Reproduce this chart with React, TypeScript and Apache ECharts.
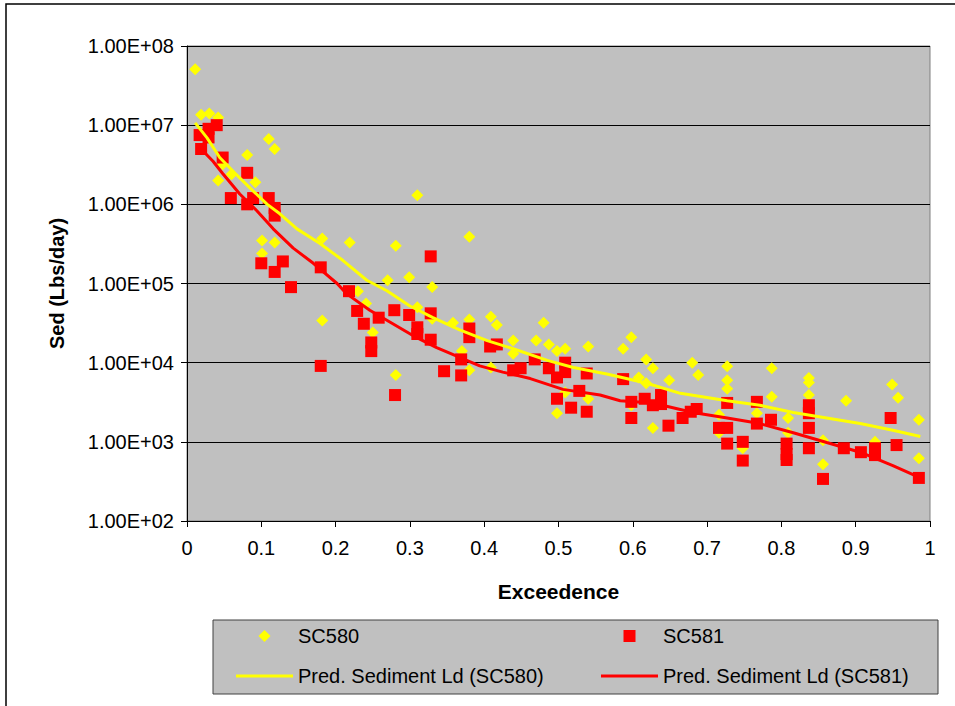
import React, { useEffect, useRef } from "react";
import * as echarts from "echarts";

// SC580 observed (exceedence, sediment lbs/day)
const sc580X = [0.011, 0.019, 0.03, 0.042, 0.042, 0.048, 0.06, 0.081, 0.092, 0.101, 0.101, 0.11, 0.118, 0.118, 0.182, 0.182, 0.219, 0.23, 0.241, 0.25, 0.27, 0.281, 0.281, 0.299, 0.31, 0.31, 0.33, 0.33, 0.358, 0.37, 0.38, 0.38, 0.38, 0.409, 0.417, 0.409, 0.439, 0.439, 0.47, 0.48, 0.487, 0.498, 0.498, 0.509, 0.509, 0.54, 0.54, 0.587, 0.598, 0.598, 0.608, 0.618, 0.618, 0.627, 0.627, 0.649, 0.68, 0.688, 0.716, 0.716, 0.727, 0.727, 0.727, 0.748, 0.767, 0.787, 0.787, 0.809, 0.809, 0.837, 0.837, 0.837, 0.856, 0.856, 0.887, 0.926, 0.949, 0.957, 0.985, 0.985];
const sc580Y = [5.1e7, 1.35e7, 1.4e7, 1.25e7, 2.0e6, 3.2e6, 2.4e6, 4.2e6, 1.9e6, 3.5e5, 2.4e5, 6.7e6, 5.0e6, 3.3e5, 3.7e5, 3.4e4, 3.3e5, 8.0e4, 5.6e4, 2.4e4, 1.1e5, 3.0e5, 7.0e3, 1.2e5, 1.3e6, 5.0e4, 9.0e4, 3.6e4, 3.2e4, 1.4e4, 3.9e5, 3.5e4, 8.0e3, 3.8e4, 3.0e4, 8.7e3, 1.9e4, 1.3e4, 1.9e4, 3.2e4, 1.7e4, 1.4e4, 2.3e3, 1.5e4, 4.2e3, 1.6e4, 3.5e3, 1.5e4, 2.1e4, 2.9e3, 6.5e3, 1.1e4, 5.5e3, 8.5e3, 1.5e3, 6.0e3, 1.0e4, 7.0e3, 2.2e3, 1.3e3, 9.0e3, 6.0e3, 4.7e3, 8.3e2, 2.3e3, 8.5e3, 3.7e3, 2.0e3, 1.3e3, 6.4e3, 5.6e3, 3.9e3, 1.05e3, 5.2e2, 3.3e3, 1.0e3, 5.3e3, 3.6e3, 1.9e3, 6.2e2];

// SC581 observed
const sc581X = [0.017, 0.019, 0.029, 0.029, 0.04, 0.048, 0.059, 0.081, 0.081, 0.089, 0.1, 0.11, 0.118, 0.118, 0.118, 0.129, 0.14, 0.18, 0.18, 0.218, 0.229, 0.238, 0.248, 0.248, 0.258, 0.279, 0.28, 0.299, 0.31, 0.31, 0.328, 0.328, 0.328, 0.346, 0.369, 0.369, 0.38, 0.38, 0.408, 0.417, 0.439, 0.449, 0.468, 0.487, 0.498, 0.498, 0.509, 0.509, 0.517, 0.528, 0.538, 0.538, 0.587, 0.598, 0.598, 0.616, 0.627, 0.638, 0.638, 0.648, 0.667, 0.678, 0.686, 0.716, 0.727, 0.727, 0.727, 0.748, 0.748, 0.767, 0.767, 0.786, 0.807, 0.807, 0.807, 0.837, 0.837, 0.837, 0.837, 0.856, 0.884, 0.907, 0.926, 0.926, 0.947, 0.955, 0.985];
const sc581Y = [7.5e6, 5.0e6, 7.0e6, 9.0e6, 1.0e7, 3.9e6, 1.2e6, 2.5e6, 1.0e6, 1.2e6, 1.8e5, 1.2e6, 9.0e5, 7.2e5, 1.4e5, 1.9e5, 9.0e4, 1.6e5, 9.1e3, 8.0e4, 4.5e4, 3.1e4, 1.8e4, 1.4e4, 3.7e4, 4.6e4, 3.9e3, 4.0e4, 2.8e4, 2.3e4, 2.2e5, 4.2e4, 1.95e4, 7.8e3, 1.1e4, 6.9e3, 2.7e4, 2.1e4, 1.6e4, 1.7e4, 8.0e3, 8.5e3, 1.1e4, 8.5e3, 6.5e3, 3.5e3, 1.0e4, 7.6e3, 2.7e3, 4.4e3, 7.3e3, 2.4e3, 6.2e3, 3.2e3, 2.0e3, 3.5e3, 2.9e3, 3.9e3, 3.0e3, 1.6e3, 2.0e3, 2.4e3, 2.6e3, 1.5e3, 3.1e3, 1.5e3, 9.5e2, 1.0e3, 5.8e2, 3.2e3, 1.7e3, 1.9e3, 9.5e2, 7.0e2, 5.9e2, 2.9e3, 2.3e3, 1.5e3, 8.3e2, 3.4e2, 8.3e2, 7.4e2, 8.3e2, 6.8e2, 2.0e3, 9.1e2, 3.5e2];

// Predicted sediment load curves
const pred580X = [0.011, 0.027, 0.044, 0.065, 0.085, 0.108, 0.125, 0.148, 0.179, 0.21, 0.242, 0.269, 0.3, 0.331, 0.367, 0.404, 0.439, 0.485, 0.52, 0.565, 0.619, 0.664, 0.727, 0.771, 0.816, 0.861, 0.906, 0.95, 0.987];
const pred580Y = [1.07e7, 6.9e6, 3.9e6, 2.45e6, 1.6e6, 1.0e6, 7.6e5, 4.9e5, 3.2e5, 1.95e5, 1.1e5, 8.1e4, 5.2e4, 3.7e4, 2.6e4, 1.9e4, 1.5e4, 1.07e4, 8.7e3, 7.2e3, 5.5e3, 4.1e3, 3.3e3, 2.9e3, 2.35e3, 2.0e3, 1.7e3, 1.4e3, 1.17e3];
const pred581X = [0.019, 0.035, 0.048, 0.071, 0.094, 0.116, 0.143, 0.17, 0.202, 0.215, 0.246, 0.277, 0.304, 0.336, 0.367, 0.394, 0.425, 0.462, 0.506, 0.556, 0.583, 0.627, 0.681, 0.727, 0.771, 0.816, 0.861, 0.906, 0.95, 0.987];
const pred581Y = [5.0e6, 3.5e6, 2.45e6, 1.35e6, 8.3e5, 4.9e5, 2.8e5, 1.8e5, 1.0e5, 7.4e4, 4.6e4, 3.1e4, 2.2e4, 1.55e4, 1.17e4, 9.1e3, 7.6e3, 6.3e3, 4.6e3, 3.9e3, 3.3e3, 3.1e3, 2.35e3, 2.0e3, 1.7e3, 1.3e3, 9.8e2, 7.4e2, 5.0e2, 3.5e2];

const seriesNames = ["SC580", "SC581", "Pred. Sediment Ld (SC580)", "Pred. Sediment Ld (SC581)"];
const xAxisTitle = "Exceedence";
const yAxisTitle = "Sed (Lbs/day)";

const FONT = "'Liberation Sans', Arial, sans-serif";

// legend icons: 57x12 boxes with the marker centred
const ICON_DIAMOND = "path://M0,0M57,12M28.5,0L34.5,6L28.5,12L22.5,6Z";
const ICON_SQUARE = "path://M0,0M57,12M22.5,0L34.5,0L34.5,12L22.5,12Z";
const ICON_LINE = "path://M0,0M57,12M0,4.5L57,4.5L57,7.5L0,7.5Z";

const pair = (xs: number[], ys: number[]) => xs.map((x, i) => [x, ys[i]]);

export default function App() {
  const ref = useRef<HTMLDivElement>(null);
  useEffect(() => {
    document.body.style.margin = "0";
    if (!ref.current) return;
    const chart = echarts.init(ref.current, undefined, { renderer: "svg" });
    const legendText = { fontSize: 20, color: "#000", fontFamily: FONT };
    const legendBase = { orient: "horizontal", padding: 0, itemWidth: 57, itemHeight: 12, itemGap: 0, textStyle: legendText, selectedMode: false, symbolKeepAspect: true };
    chart.setOption({
      animation: false,
      backgroundColor: "#ffffff",
      textStyle: { fontFamily: FONT },
      grid: { left: 187, top: 46, width: 743, height: 475, show: true, backgroundColor: "#c0c0c0", borderColor: "#808080", borderWidth: 1 },
      xAxis: {
        type: "value", min: 0, max: 1, interval: 0.1,
        name: xAxisTitle, nameLocation: "middle", nameGap: 60,
        nameTextStyle: { fontSize: 21, fontWeight: "bold", color: "#000", fontFamily: FONT },
        axisLine: { show: true, lineStyle: { color: "#000", width: 1 } },
        axisTick: { show: true, length: 6, lineStyle: { color: "#000" } },
        axisLabel: { fontSize: 20, color: "#000", margin: 17, fontFamily: FONT, formatter: (v: number) => String(Math.round(v * 10) / 10) },
        splitLine: { show: false },
      },
      yAxis: {
        type: "log", logBase: 10, min: 100, max: 1e8, splitNumber: 6,
        name: yAxisTitle, nameLocation: "middle", nameGap: 120, nameRotate: 90,
        nameTextStyle: { fontSize: 20, fontWeight: "bold", color: "#000", fontFamily: FONT },
        axisLine: { show: true, lineStyle: { color: "#000", width: 1 } },
        axisTick: { show: true, length: 6, lineStyle: { color: "#000" } },
        axisLabel: {
          fontSize: 20, color: "#000", margin: 13, fontFamily: FONT,
          formatter: (v: number) => {
            const e = Math.round(Math.log10(v));
            const m = v / Math.pow(10, e);
            return m.toFixed(2) + "E+" + String(e).padStart(2, "0");
          },
        },
        splitLine: { show: true, lineStyle: { color: "#000", width: 1 } },
        minorTick: { show: false },
      },
      legend: [
        { ...legendBase, left: 236, top: 626, data: [{ name: seriesNames[0], icon: ICON_DIAMOND }] },
        { ...legendBase, left: 601, top: 626, data: [{ name: seriesNames[1], icon: ICON_SQUARE }] },
        { ...legendBase, left: 236, top: 666, data: [{ name: seriesNames[2], icon: ICON_LINE }] },
        { ...legendBase, left: 601, top: 666, data: [{ name: seriesNames[3], icon: ICON_LINE }] },
      ],
      graphic: [
        { type: "rect", z: -10, silent: true, shape: { x: 6, y: 4, width: 1100, height: 900 }, style: { fill: "none", stroke: "#000", lineWidth: 1.5 } },
        { type: "rect", z: -10, silent: true, shape: { x: 213, y: 620, width: 725, height: 74 }, style: { fill: "#c0c0c0", stroke: "#404040", lineWidth: 1 } },
      ],
      series: [
        { name: seriesNames[0], type: "scatter", symbol: "diamond", symbolSize: 12, itemStyle: { color: "#ffff00", opacity: 1 }, data: pair(sc580X, sc580Y), z: 2 },
        { name: seriesNames[1], type: "scatter", symbol: "rect", symbolSize: 12, itemStyle: { color: "#ff0000", opacity: 1 }, data: pair(sc581X, sc581Y), z: 3 },
        { name: seriesNames[2], type: "line", symbol: "none", showSymbol: false, lineStyle: { color: "#ffff00", width: 3 }, itemStyle: { color: "#ffff00" }, data: pair(pred580X, pred580Y), z: 4 },
        { name: seriesNames[3], type: "line", symbol: "none", showSymbol: false, lineStyle: { color: "#ff0000", width: 3 }, itemStyle: { color: "#ff0000" }, data: pair(pred581X, pred581Y), z: 5 },
      ],
    });
    return () => chart.dispose();
  }, []);
  return <div ref={ref} style={{ width: 955, height: 706 }} />;
}
